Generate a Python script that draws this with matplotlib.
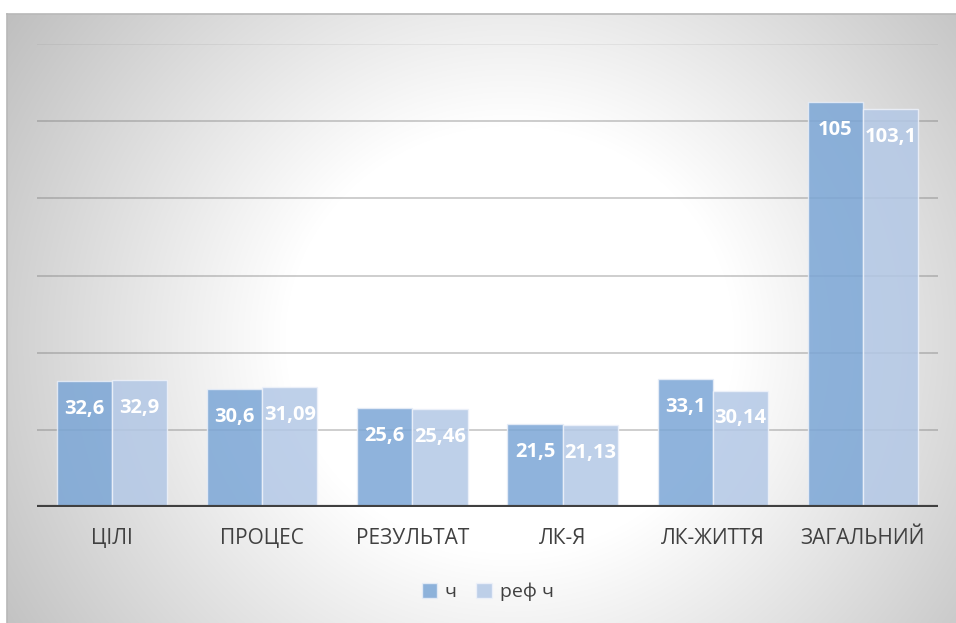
import numpy as np
import matplotlib
matplotlib.use("Agg")
import matplotlib.pyplot as plt

plt.rcParams['font.family'] = ['Open Sans', 'DejaVu Sans']

categories = ['ЦІЛІ', 'ПРОЦЕС', 'РЕЗУЛЬТАТ', 'ЛК-Я', 'ЛК-ЖИТТЯ', 'ЗАГАЛЬНИЙ']
ch = [32.6, 30.6, 25.6, 21.5, 33.1, 105]
ref_ch = [32.9, 31.09, 25.46, 21.13, 30.14, 103.1]
ch_labels = ['32,6', '30,6', '25,6', '21,5', '33,1', '105']
ref_labels = ['32,9', '31,09', '25,46', '21,13', '30,14', '103,1']

W, H = 956, 623
fig = plt.figure(figsize=(W / 100, H / 100), dpi=100)
fig.patch.set_facecolor('white')

# chart area with radial gradient background
bg = fig.add_axes([7 / W, 0, 1 - 7 / W, (H - 14) / H])
yy, xx = np.mgrid[14:H, 7:W]
d = np.hypot(xx - 510, (yy - 340) * 1.05)
t = np.clip((d - 225) / 380, 0, 1)
shade = 1 - 0.25 * t
img = np.dstack([shade, shade, shade])
bg.imshow(img, aspect='auto', extent=[0, 1, 0, 1], interpolation='bilinear')
bg.set_xlim(0, 1)
bg.set_ylim(0, 1)
bg.set_xticks([])
bg.set_yticks([])
for s in ['right', 'bottom']:
    bg.spines[s].set_visible(False)
for s in ['left', 'top']:
    bg.spines[s].set_color('#b8b8b8')
    bg.spines[s].set_linewidth(1.2)

ax = fig.add_axes([37 / W, (H - 507) / H, (938 - 37) / W, (507 - 44) / H])
ax.patch.set_alpha(0)
x = np.arange(len(categories))
w = 0.367

for yv in range(20, 121, 20):
    ax.axhline(yv, color='#6f6f6f', alpha=0.4 if yv < 120 else 0.12, lw=1.2, zorder=1)

b1 = ax.bar(x - w / 2, ch, w, color='#7BA6D6', alpha=0.85, edgecolor='#e8eef8',
            linewidth=1, label='ч', zorder=2)
b2 = ax.bar(x + w / 2, ref_ch, w, color='#B3C8E6', alpha=0.85, edgecolor='#eef2fa',
            linewidth=1, label='реф ч', zorder=2)

for bars, labs in [(b1, ch_labels), (b2, ref_labels)]:
    for b, lab in zip(bars, labs):
        ax.annotate(lab, (b.get_x() + b.get_width() / 2, b.get_height()),
                    xytext=(0, -20), textcoords='offset points', ha='center',
                    va='center', color='white', fontsize=14.5, fontweight='bold',
                    zorder=3)

ax.axhline(0, color='#404040', lw=3, zorder=4)
ax.set_xlim(-0.5, len(categories) - 0.5)
ax.set_ylim(0, 120)
ax.set_yticks([])
ax.set_xticks(x)
ax.set_xticklabels(categories, fontsize=15, color='#404040')
ax.tick_params(axis='x', length=0, pad=15)
for s in ax.spines.values():
    s.set_visible(False)

ax.legend(loc='center', bbox_to_anchor=(0.5, -0.183), ncol=2, frameon=False,
          fontsize=14, handlelength=0.8, handleheight=0.8, handletextpad=0.4,
          columnspacing=1.0, labelcolor='#404040')

fig.savefig('out.png', dpi=100)
